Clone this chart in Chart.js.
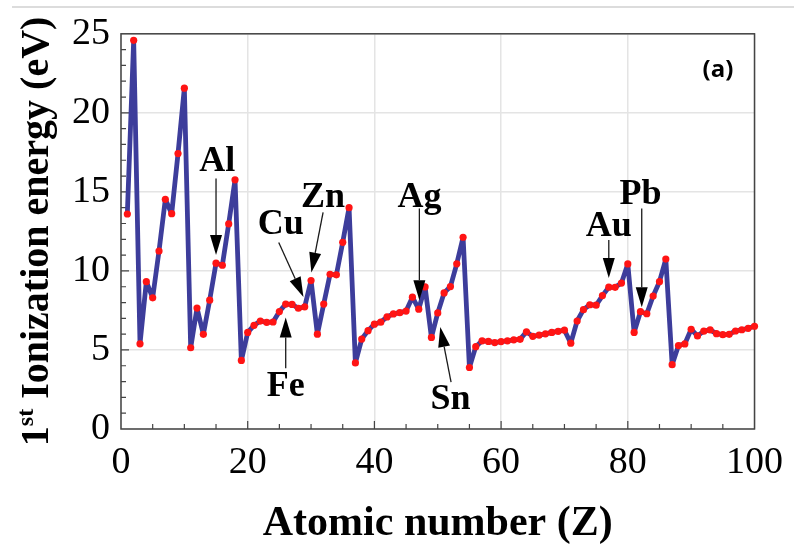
<!DOCTYPE html>
<html>
<head>
<meta charset="utf-8">
<script src="https://cdn.jsdelivr.net/npm/chart.js@4.4.1/dist/chart.umd.min.js"></script>
<style>
  html, body { margin: 0; padding: 0; background: #fff; }
  #wrap { width: 794px; height: 546px; }
</style>
</head>
<body>
<div id="wrap"><canvas id="ie-chart" width="794" height="546"></canvas></div>
<script>
// atomic number Z and 1st ionization energy (eV)
const atomicNumbers = [
  1, 2, 3, 4, 5, 6, 7, 8, 9, 10, 11, 12, 13, 14, 15, 16, 17, 18, 19, 20,
  21, 22, 23, 24, 25, 26, 27, 28, 29, 30, 31, 32, 33, 34, 35, 36, 37, 38, 39, 40,
  41, 42, 43, 44, 45, 46, 47, 48, 49, 50, 51, 52, 53, 54, 55, 56, 57, 58, 59, 60,
  61, 62, 63, 64, 65, 66, 67, 68, 69, 70, 71, 72, 73, 74, 75, 76, 77, 78, 79, 80,
  81, 82, 83, 84, 85, 86, 87, 88, 89, 90, 91, 92, 93, 94, 95, 96, 97, 98, 99, 100
];
const ionizationEnergy = [
  13.6, 24.59, 5.39, 9.32, 8.30, 11.26, 14.53, 13.62, 17.42, 21.56,
  5.14, 7.65, 5.99, 8.15, 10.49, 10.36, 12.97, 15.76, 4.34, 6.11,
  6.56, 6.83, 6.75, 6.77, 7.43, 7.90, 7.88, 7.64, 7.73, 9.39,
  6.00, 7.90, 9.79, 9.75, 11.81, 14.00, 4.18, 5.69, 6.22, 6.63,
  6.76, 7.09, 7.28, 7.36, 7.46, 8.34, 7.58, 8.99, 5.79, 7.34,
  8.61, 9.01, 10.45, 12.13, 3.89, 5.21, 5.58, 5.54, 5.47, 5.53,
  5.58, 5.64, 5.67, 6.15, 5.86, 5.94, 6.02, 6.11, 6.18, 6.25,
  5.43, 6.83, 7.55, 7.86, 7.83, 8.44, 8.97, 8.96, 9.23, 10.44,
  6.11, 7.42, 7.29, 8.41, 9.32, 10.75, 4.07, 5.28, 5.38, 6.31,
  5.89, 6.19, 6.27, 6.03, 5.97, 5.99, 6.20, 6.28, 6.37, 6.50
];
const xTicks = [0, 20, 40, 60, 80, 100];
const yTicks = [0, 5, 10, 15, 20, 25];

// element labels with arrows, in data units (Z, eV)
const callouts = [
  { text: 'Al', label: [15.2, 16.9], from: [15.0, 15.85], to: [15.0, 11.0] },
  { text: 'Cu', label: [25.2, 12.9], from: [24.9, 11.8], to: [28.8, 8.35] },
  { text: 'Zn', label: [31.9, 14.65], from: [31.9, 13.7], to: [30.05, 9.9] },
  { text: 'Fe', label: [26.0, 2.65], from: [26.0, 3.85], to: [26.0, 7.05] },
  { text: 'Ag', label: [47.1, 14.65], from: [47.1, 13.95], to: [47.1, 8.15] },
  { text: 'Sn', label: [52.0, 1.85], from: [52.1, 2.97], to: [50.4, 6.45] },
  { text: 'Au', label: [77.0, 12.8], from: [77.0, 11.95], to: [77.0, 9.55] },
  { text: 'Pb', label: [82.0, 14.8], from: [82.2, 13.95], to: [82.2, 7.7] }
];

const SERIF = '"Liberation Serif", "Times New Roman", serif';

function drawArrow(ctx, x1, y1, x2, y2) {
  const ang = Math.atan2(y2 - y1, x2 - x1);
  const len = 20, half = 6;
  const bx = x2 - len * Math.cos(ang), by = y2 - len * Math.sin(ang);
  ctx.beginPath();
  ctx.moveTo(x1, y1);
  ctx.lineTo(bx, by);
  ctx.stroke();
  ctx.beginPath();
  ctx.moveTo(x2, y2);
  ctx.lineTo(bx + half * Math.sin(ang), by - half * Math.cos(ang));
  ctx.lineTo(bx - half * Math.sin(ang), by + half * Math.cos(ang));
  ctx.closePath();
  ctx.fill();
}

const framePlugin = {
  id: 'frame',
  beforeDraw(chart) {
    const ctx = chart.ctx;
    ctx.save();
    ctx.strokeStyle = '#dcdcdc';
    ctx.lineWidth = 2;
    ctx.beginPath();
    ctx.moveTo(12, 7);
    ctx.lineTo(794, 7);
    ctx.stroke();
    ctx.restore();
  },
  beforeDatasetsDraw(chart) {
    const { ctx, chartArea: a, scales } = chart;
    ctx.save();
    ctx.strokeStyle = '#444';
    ctx.lineWidth = 1.5;
    ctx.strokeRect(a.left, a.top, a.right - a.left, a.bottom - a.top);
    ctx.lineWidth = 1.2;
    ctx.beginPath();
    for (let v = 5; v < 100; v += 5) {
      const px = scales.x.getPixelForValue(v);
      const l = v % 20 === 0 ? 8 : 5;
      ctx.moveTo(px, a.bottom);
      ctx.lineTo(px, a.bottom - l);
    }
    for (let v = 1; v < 25; v += 1) {
      const py = scales.y.getPixelForValue(v);
      const l = v % 5 === 0 ? 8 : 5;
      ctx.moveTo(a.left, py);
      ctx.lineTo(a.left + l, py);
    }
    ctx.stroke();
    ctx.restore();
  },
  afterDraw(chart) {
    const { ctx, chartArea: a, scales } = chart;
    ctx.save();
    // callouts
    ctx.strokeStyle = '#1a1a1a';
    ctx.fillStyle = '#000';
    ctx.lineWidth = 1.3;
    callouts.forEach(c => {
      drawArrow(ctx,
        scales.x.getPixelForValue(c.from[0]), scales.y.getPixelForValue(c.from[1]),
        scales.x.getPixelForValue(c.to[0]), scales.y.getPixelForValue(c.to[1]));
    });
    ctx.font = 'bold 36px ' + SERIF;
    ctx.textAlign = 'center';
    ctx.textBaseline = 'middle';
    callouts.forEach(c => {
      ctx.fillText(c.text, scales.x.getPixelForValue(c.label[0]), scales.y.getPixelForValue(c.label[1]));
    });
    // panel tag
    ctx.font = 'bold 24px "Open Sans", sans-serif';
    ctx.fillText('(a)', 718, 70);
    // x title
    ctx.font = 'bold 42px ' + SERIF;
    ctx.textBaseline = 'alphabetic';
    ctx.fillText('Atomic number (Z)', (a.left + a.right) / 2, 535);
    // y title with superscript
    ctx.translate(48, (a.top + a.bottom) / 2);
    ctx.rotate(-Math.PI / 2);
    ctx.textAlign = 'left';
    const big = 'bold 40px ' + SERIF, small = 'bold 24px ' + SERIF;
    ctx.font = big;
    const w1 = ctx.measureText('1').width;
    const w3 = ctx.measureText(' Ionization energy (eV)').width;
    ctx.font = small;
    const w2 = ctx.measureText('st').width;
    let x = -(w1 + w2 + w3) / 2;
    ctx.font = big;
    ctx.fillText('1', x, 0);
    x += w1;
    ctx.font = small;
    ctx.fillText('st', x, -15);
    x += w2;
    ctx.font = big;
    ctx.fillText(' Ionization energy (eV)', x, 0);
    ctx.restore();
  }
};

new Chart(document.getElementById('ie-chart'), {
  type: 'line',
  data: {
    datasets: [{
      data: atomicNumbers.map((z, i) => ({ x: z, y: ionizationEnergy[i] })),
      borderColor: '#3d3d9b',
      borderWidth: 4.8,
      borderJoinStyle: 'round',
      borderCapStyle: 'round',
      tension: 0,
      pointRadius: 3.6,
      pointBorderWidth: 0,
      pointBackgroundColor: '#ff1414',
      clip: false
    }]
  },
  options: {
    responsive: false,
    animation: false,
    layout: { padding: { left: 0, right: 34, top: 33, bottom: 0 } },
    plugins: { legend: { display: false }, tooltip: { enabled: false } },
    scales: {
      x: {
        type: 'linear',
        min: 0,
        max: 100,
        afterFit(scale) { scale.height = 117; },
        afterBuildTicks(scale) { scale.ticks = xTicks.map(v => ({ value: v })); },
        grid: { color: '#e4e4e4', lineWidth: 1.5, drawTicks: false },
        border: { display: false },
        ticks: { color: '#000', padding: 11, font: { family: SERIF, size: 38 } }
      },
      y: {
        min: 0,
        max: 25,
        afterFit(scale) { scale.width = 121; },
        afterBuildTicks(scale) { scale.ticks = yTicks.map(v => ({ value: v })); },
        grid: { color: '#e4e4e4', lineWidth: 1.5, drawTicks: false },
        border: { display: false },
        ticks: { color: '#000', padding: 11, font: { family: SERIF, size: 38 } }
      }
    }
  },
  plugins: [framePlugin]
});
</script>
</body>
</html>
